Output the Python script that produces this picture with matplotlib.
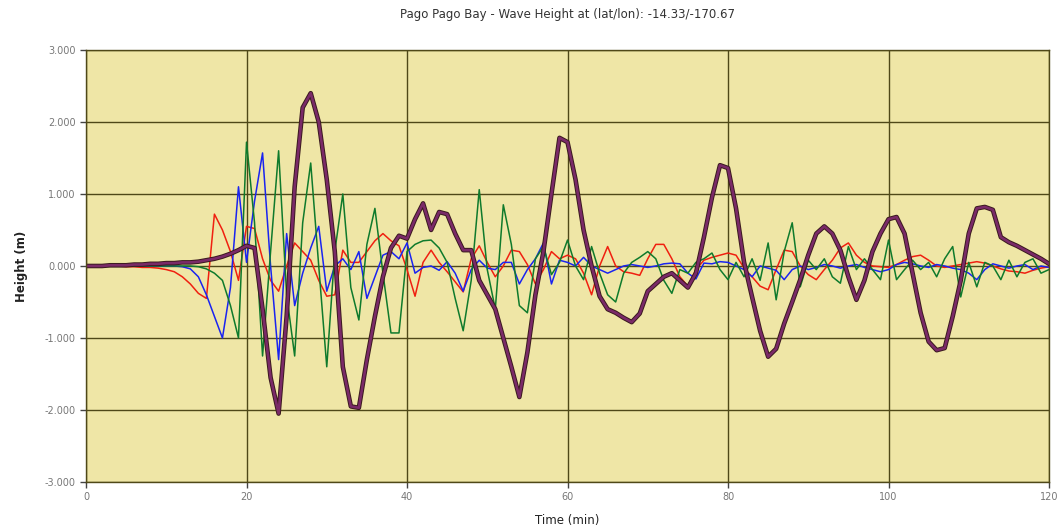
import numpy as np
import matplotlib
matplotlib.use("Agg")
import matplotlib.pyplot as plt

# time axis, one sample per minute
minutes = np.arange(0, 121)

red_h = [0, 0, 0, 0, 0, -0.01, -0.01, -0.02, -0.02, -0.03, -0.05,
         -0.08, -0.15, -0.25, -0.38, -0.45, 0.72, 0.5, 0.2, -0.2, 0.55,
         0.52, 0.1, -0.2, -0.35, 0.0, 0.32, 0.2, 0.08, -0.2, -0.42,
         -0.4, 0.22, 0.05, 0.05, 0.2, 0.35, 0.45, 0.35, 0.28, -0.05,
         -0.42, 0.05, 0.22, 0.05, -0.08, -0.22, -0.36, 0.1, 0.28, 0.05,
         -0.15, 0.0, 0.22, 0.2, 0.02, -0.25, -0.05, 0.2, 0.1, 0.15,
         0.1, -0.1, -0.4, 0.0, 0.27, 0.0, -0.08, -0.1, -0.13, 0.1,
         0.3, 0.3, 0.1, -0.15, -0.28, -0.05, 0.08, 0.12, 0.15, 0.18,
         0.15, -0.03, -0.15, -0.28, -0.33, -0.05, 0.22, 0.2, 0.0, -0.12,
         -0.19, -0.05, 0.08, 0.25, 0.32, 0.15, 0.05, 0.0, -0.01, -0.02,
         0.02, 0.08, 0.13, 0.15, 0.08, 0.0, -0.02, 0.0, 0.02, 0.04,
         0.06, 0.04, 0.0, -0.04, -0.07, -0.08, -0.1, -0.06, -0.03, -0.01]

blue_h = [0, 0, 0, 0, 0, 0, 0, 0, 0, 0, 0,
          0, -0.01, -0.04, -0.15, -0.4, -0.7, -1.0, -0.3, 1.1, 0.05,
          0.9, 1.57, 0.0, -1.3, 0.45, -0.55, -0.1, 0.25, 0.55, -0.35,
          0.0, 0.1, -0.05, 0.2, -0.45, -0.15, 0.15, 0.2, 0.1, 0.32,
          -0.1, -0.02, 0.0, -0.06, 0.06, -0.1, -0.35, -0.05, 0.08, -0.03,
          -0.05, 0.05, 0.05, -0.25, -0.05, 0.1, 0.32, -0.25, 0.08, 0.05,
          0.0, 0.12, 0.0, -0.05, -0.1, -0.05, 0.0, 0.02, 0.0, -0.02,
          0.0, 0.03, 0.04, 0.03, -0.1, -0.18, 0.04, 0.03, 0.06, 0.05,
          0.0, -0.05, -0.15, 0.0, -0.03, -0.06, -0.19, -0.05, 0.0, -0.05,
          -0.02, 0.02, 0.0, -0.03, 0.0, 0.02, -0.02, -0.05, -0.08, -0.05,
          0.02, 0.05, 0.03, 0.0, -0.02, 0.02, 0.0, -0.03, -0.05, -0.1,
          -0.19, -0.05, 0.03, 0.0, -0.03, 0.0, 0.02, -0.05, 0.0, -0.02]

green_h = [0, 0, 0, 0, 0, 0, 0, 0, 0, 0, 0,
           0, 0, 0, -0.01, -0.04, -0.1, -0.2, -0.55, -1.0, 1.72,
           0.6, -1.25, 0.2, 1.6, -0.4, -1.25, 0.6, 1.43, 0.0, -1.4,
           0.2, 1.0, -0.3, -0.75, 0.3, 0.8, -0.1, -0.93, -0.93, 0.2,
           0.3, 0.35, 0.36, 0.25, 0.05, -0.45, -0.9, -0.2, 1.06, -0.05,
           -0.6, 0.85, 0.3, -0.55, -0.65, 0.1, 0.27, -0.12, 0.05, 0.36,
           0.0, -0.19, 0.27, -0.1, -0.4, -0.5, -0.1, 0.05, 0.12, 0.2,
           0.1, -0.2, -0.38, -0.05, -0.1, 0.05, 0.1, 0.18, -0.05, -0.19,
           0.05, -0.15, 0.1, -0.2, 0.32, -0.47, 0.2, 0.6, -0.29, 0.08,
           -0.05, 0.1, -0.15, -0.24, 0.27, -0.05, 0.1, -0.05, -0.19, 0.36,
           -0.19, -0.05, 0.08, -0.05, 0.05, -0.15, 0.1, 0.27, -0.43, 0.05,
           -0.29, 0.05, 0.0, -0.19, 0.08, -0.15, 0.05, 0.1, -0.1, -0.05]

purple_h = [0, 0, 0, 0.01, 0.01, 0.01, 0.02, 0.02, 0.03, 0.03, 0.04,
            0.04, 0.05, 0.05, 0.06, 0.08, 0.1, 0.13, 0.17, 0.22, 0.28,
            0.25, -0.6, -1.55, -2.05, -0.7, 1.1, 2.2, 2.4, 2.0, 1.2,
            0.2, -1.4, -1.95, -1.97, -1.3, -0.7, -0.15, 0.25, 0.42, 0.38,
            0.65, 0.87, 0.5, 0.75, 0.72, 0.45, 0.22, 0.22, -0.2, -0.4,
            -0.6, -1.0, -1.4, -1.82, -1.2, -0.4, 0.2, 1.0, 1.78, 1.72,
            1.2, 0.5, 0.0, -0.42, -0.6, -0.65, -0.72, -0.78, -0.66, -0.35,
            -0.25, -0.15, -0.1, -0.2, -0.3, -0.1, 0.4, 0.95, 1.4, 1.36,
            0.8, 0.05, -0.43, -0.9, -1.26, -1.15, -0.8, -0.5, -0.19, 0.15,
            0.45, 0.55, 0.45, 0.22, -0.15, -0.47, -0.2, 0.2, 0.45, 0.65,
            0.68, 0.45, -0.1, -0.65, -1.05, -1.17, -1.14, -0.7, -0.2, 0.45,
            0.8, 0.82, 0.78, 0.4, 0.33, 0.28, 0.22, 0.16, 0.1, 0.03]

x_ticks = [0, 20, 40, 60, 80, 100, 120]
y_ticks = [-3, -2, -1, 0, 1, 2, 3]

fig = plt.figure(figsize=(10.58, 5.30), dpi=100)
ax = fig.add_axes([0.0813, 0.0906, 0.9102, 0.8151])
ax.set_facecolor('#efe6a6')

ax.plot(minutes, red_h, '-', color='#f02010', lw=1.1)
ax.plot(minutes, blue_h, '-', color='#1a24f0', lw=1.1)
ax.plot(minutes, green_h, '-', color='#0f7a2c', lw=1.1)
# thick series: dark edge under a purple core
ax.plot(minutes, purple_h, '-', color='#3a1a1e', lw=3.3, solid_joinstyle='round')
ax.plot(minutes, purple_h, '-', color='#7a2a68', lw=1.9, solid_joinstyle='round')

ax.set_xlim(0, 120)
ax.set_ylim(-3, 3)
ax.set_xticks(x_ticks)
ax.set_yticks(y_ticks)
ax.set_yticklabels(['%.3f' % v for v in y_ticks])
ax.grid(True, color='#4f4818', lw=1.0)
ax.set_axisbelow(True)
for s in ax.spines.values():
    s.set_color('#4f4818')
    s.set_linewidth(1.0)

ax.tick_params(colors='#444444', labelsize=7, length=4, width=1)
for lbl in ax.get_xticklabels() + ax.get_yticklabels():
    lbl.set_color('#777777')

ax.set_title('Pago Pago Bay - Wave Height at (lat/lon): -14.33/-170.67',
             fontsize=8.5, color='#333333', pad=23)
ax.set_xlabel('Time (min)', fontsize=8.5, color='#222222', labelpad=8)
ax.set_ylabel('Height (m)', fontsize=8.5, color='#222222', fontweight='bold', labelpad=12)

fig.savefig('out.png', dpi=100, facecolor='white')
